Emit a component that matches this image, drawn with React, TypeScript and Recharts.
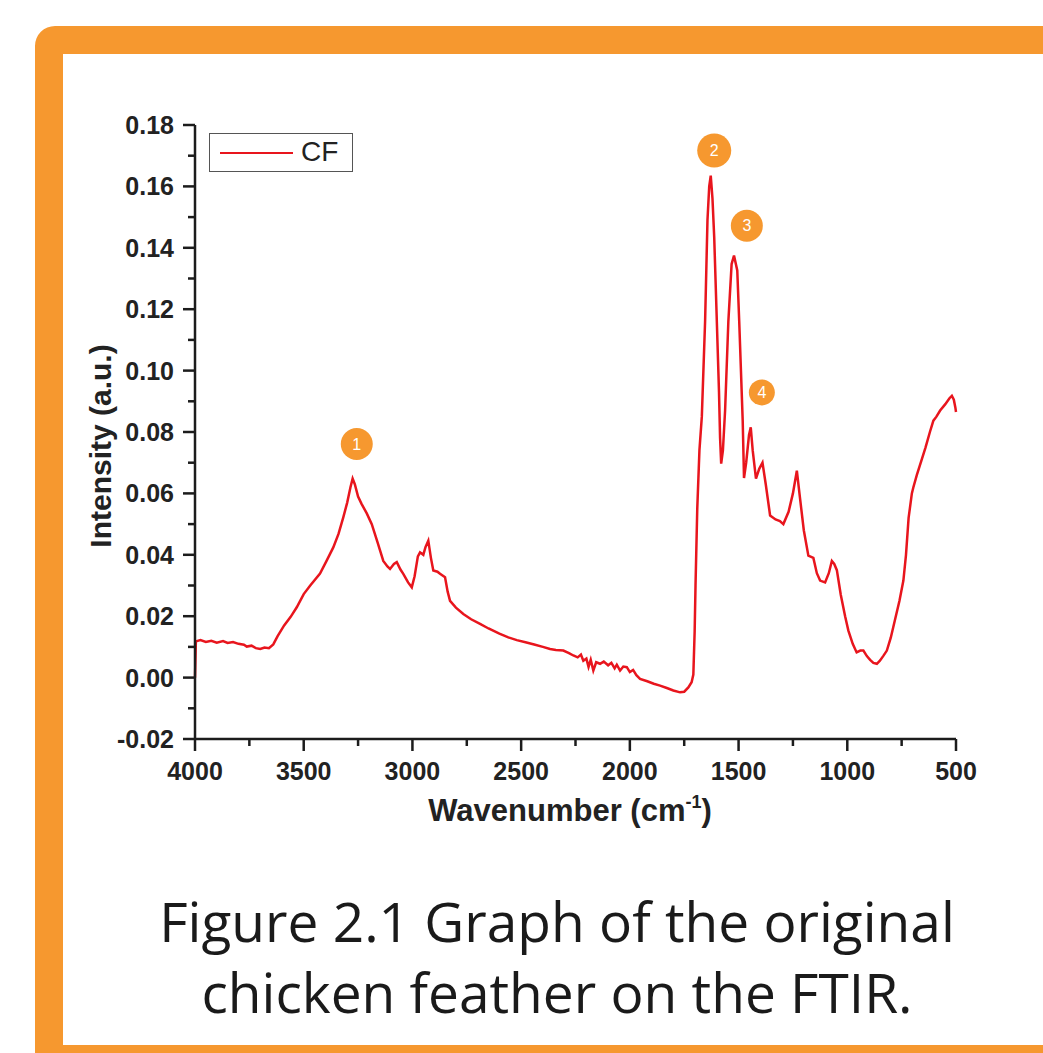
import { LineChart, Line, XAxis, YAxis, Legend, ReferenceDot } from 'recharts';

// FTIR spectrum of chicken feather
const wavenumbers = [
  4000, 3996, 3975, 3950, 3925, 3900, 3871, 3850, 3825, 3800, 3775, 3762, 3740, 3720, 3700, 3680,
  3660, 3640, 3620, 3590, 3560, 3532, 3500, 3470, 3425, 3395, 3364, 3340, 3318, 3300, 3285, 3275,
  3265, 3250, 3234, 3210, 3187, 3160, 3134, 3115, 3103, 3085, 3072, 3055, 3042, 3020, 3003, 2990,
  2975, 2965, 2950, 2940, 2927, 2915, 2904, 2885, 2873, 2850, 2838, 2827, 2800, 2766, 2730, 2689,
  2650, 2600, 2559, 2520, 2480, 2440, 2400, 2367, 2340, 2306, 2280, 2260, 2240, 2225, 2214, 2200,
  2190, 2180, 2168, 2155, 2137, 2120, 2100, 2085, 2070, 2060, 2045, 2030, 2014, 2000, 1985, 1970,
  1953, 1920, 1890, 1861, 1830, 1800, 1769, 1750, 1731, 1716, 1708, 1702, 1698, 1690, 1680, 1669,
  1654, 1643, 1635, 1628, 1620, 1612, 1600, 1590, 1585, 1580, 1572, 1562, 1547, 1532, 1521, 1506,
  1497, 1481, 1475, 1465, 1452, 1444, 1435, 1420, 1405, 1390, 1375, 1355, 1330, 1310, 1294, 1270,
  1250, 1232, 1220, 1200, 1179, 1156, 1140, 1125, 1102, 1085, 1071, 1060, 1048, 1030, 1010, 995,
  975, 957, 940, 926, 910, 895, 880, 864, 850, 835, 818, 800, 780, 760, 742, 730,
  718, 703, 696, 680, 657, 640, 620, 604, 590, 573, 550, 530, 519, 510, 503, 500,
];
const intensities = [
  0.0, 0.0118, 0.0122, 0.0116, 0.012, 0.0114, 0.0119, 0.0113, 0.0116, 0.011, 0.0107, 0.0101, 0.0104, 0.0096, 0.0093, 0.0098,
  0.0096, 0.0108, 0.0135, 0.017, 0.0198, 0.0229, 0.0272, 0.03, 0.0339, 0.038, 0.0424, 0.0468, 0.0522, 0.057, 0.062, 0.0648,
  0.063, 0.059, 0.0566, 0.0535, 0.05, 0.044, 0.038, 0.0362, 0.0354, 0.037, 0.0376, 0.0352, 0.0338, 0.031, 0.0294, 0.033,
  0.0395, 0.0408, 0.04, 0.0425, 0.0446, 0.039, 0.0349, 0.0345, 0.0338, 0.0327, 0.028, 0.025, 0.0228, 0.0207, 0.019, 0.0175,
  0.016, 0.0143, 0.0131, 0.0122, 0.0115, 0.0108, 0.01, 0.0093, 0.009, 0.0088, 0.008, 0.0072, 0.0066, 0.0075, 0.0055, 0.0062,
  0.0035, 0.0058, 0.0023, 0.005, 0.0045, 0.0052, 0.004, 0.0048, 0.003, 0.0042, 0.0023, 0.0036, 0.0034, 0.0018, 0.0025, 0.0008,
  -0.0004, -0.0012, -0.002, -0.0026, -0.0034, -0.0042, -0.0048, -0.0046, -0.0032, -0.0015, 0.001, 0.015, 0.03, 0.055, 0.074, 0.085,
  0.116, 0.149, 0.16, 0.1635, 0.156, 0.1434, 0.116, 0.093, 0.078, 0.0697, 0.074, 0.087, 0.116, 0.1347, 0.1375, 0.1326,
  0.116, 0.0837, 0.065, 0.07, 0.079, 0.0815, 0.074, 0.0648, 0.068, 0.07, 0.063, 0.0528, 0.0515, 0.051, 0.05, 0.054,
  0.06, 0.0674, 0.06, 0.048, 0.0397, 0.039, 0.034, 0.0316, 0.031, 0.034, 0.038, 0.037, 0.035, 0.027, 0.02, 0.0153,
  0.011, 0.0082, 0.0088, 0.0088, 0.007, 0.0058, 0.0048, 0.0045, 0.0055, 0.007, 0.0088, 0.013, 0.019, 0.025, 0.0316, 0.04,
  0.052, 0.06, 0.062, 0.066, 0.0712, 0.075, 0.08, 0.0837, 0.085, 0.087, 0.089, 0.091, 0.0918, 0.0905, 0.088, 0.0865,
];

const xTicks = [4000, 3750, 3500, 3250, 3000, 2750, 2500, 2250, 2000, 1750, 1500, 1250, 1000, 750, 500];
const yTicks = [-0.02, -0.01, 0, 0.01, 0.02, 0.03, 0.04, 0.05, 0.06, 0.07, 0.08, 0.09, 0.1, 0.11, 0.12, 0.13, 0.14, 0.15, 0.16, 0.17, 0.18];

// numbered peak markers
const peakLabels = ['1', '2', '3', '4'];
const peakW = [3256, 1612, 1462, 1393];
const peakV = [0.0761, 0.1717, 0.1472, 0.0929];
const peakR = [16, 17, 16, 13];

const data = wavenumbers.map((w, i) => ({ w, cf: intensities[i] }));

const RED = '#e8151d';
const ORANGE = '#f6982f';
const AXIS = '#1c1c1c';
const FONT = '"Liberation Sans", Arial, sans-serif';

const XTick = ({ x, y, payload }: any) => {
  const major = payload.value % 500 === 0;
  return (
    <g>
      <line x1={x} y1={y} x2={x} y2={y + (major ? 12 : 7)} stroke={AXIS} strokeWidth={2.5} />
      {major && (
        <text x={x} y={y + 41} textAnchor="middle" fontFamily={FONT} fontWeight="bold" fontSize={25} fill="#222">
          {payload.value}
        </text>
      )}
    </g>
  );
};

const YTick = ({ x, y, payload }: any) => {
  const major = Math.round(payload.value * 100) % 2 === 0;
  return (
    <g>
      <line x1={x} y1={y} x2={x - (major ? 12 : 7)} y2={y} stroke={AXIS} strokeWidth={2.5} />
      {major && (
        <text x={x - 21} y={y} dy="0.36em" textAnchor="end" fontFamily={FONT} fontWeight="bold" fontSize={25} fill="#222">
          {payload.value.toFixed(2)}
        </text>
      )}
    </g>
  );
};

const PeakDot = (label: string) => (props: any) => (
  <g>
    <circle cx={props.cx} cy={props.cy} r={props.r} fill={ORANGE} />
    <text x={props.cx} y={props.cy} dy="0.36em" textAnchor="middle" fontFamily={FONT} fontSize={16} fill="#fff">
      {label}
    </text>
  </g>
);

const LegendBox = () => (
  <div
    style={{
      width: 142,
      height: 37,
      border: '1.5px solid #555',
      background: '#fff',
      position: 'relative',
      fontFamily: FONT,
    }}
  >
    <div style={{ position: 'absolute', left: 10, top: 18, width: 73, height: 0, borderTop: `2.5px solid ${RED}` }} />
    <div style={{ position: 'absolute', left: 91, top: 2, fontSize: 28, lineHeight: '32px', color: '#222' }}>CF</div>
  </div>
);

export default function App() {
  return (
    <div style={{ position: 'absolute', left: 0, top: 0, width: 1043, height: 1053, overflow: 'hidden', background: '#fff' }}>
      <div
        style={{
          position: 'absolute',
          left: 35,
          top: 26,
          width: 1100,
          height: 1047,
          border: `28px solid ${ORANGE}`,
          borderRadius: 20,
          boxSizing: 'border-box',
          background: '#fff',
        }}
      />
      <div style={{ position: 'absolute', left: 0, top: 0 }}>
        <LineChart width={1043} height={850} data={data} margin={{ top: 125, right: 87, left: 135, bottom: 51 }}>
          <XAxis
            dataKey="w"
            type="number"
            domain={[500, 4000]}
            reversed
            ticks={xTicks}
            interval={0}
            height={60}
            tickSize={0}
            tickMargin={0}
            axisLine={{ stroke: AXIS, strokeWidth: 2.5 }}
            tick={<XTick />}
          />
          <YAxis
            type="number"
            domain={[-0.02, 0.18]}
            ticks={yTicks}
            interval={0}
            width={60}
            tickSize={0}
            tickMargin={0}
            axisLine={{ stroke: AXIS, strokeWidth: 2.5 }}
            tick={<YTick />}
          />
          <Legend
            layout="horizontal"
            verticalAlign="middle"
            align="center"
            wrapperStyle={{ position: 'absolute', left: 209, top: 133, width: 'auto' }}
            content={() => <LegendBox />}
          />
          <Line
            type="linear"
            dataKey="cf"
            name="CF"
            stroke={RED}
            strokeWidth={2.5}
            dot={false}
            activeDot={false}
            isAnimationActive={false}
          />
          {peakLabels.map((l, i) => (
            <ReferenceDot key={l} x={peakW[i]} y={peakV[i]} r={peakR[i]} shape={PeakDot(l)} ifOverflow="visible" />
          ))}
        </LineChart>
      </div>
      <div
        style={{
          position: 'absolute',
          left: 420,
          top: 795,
          width: 300,
          textAlign: 'center',
          fontFamily: FONT,
          fontWeight: 'bold',
          fontSize: 31,
          lineHeight: '31px',
          color: '#222',
          whiteSpace: 'nowrap',
        }}
      >
        Wavenumber (cm<span style={{ position: 'relative', top: -13, fontSize: 18 }}>-1</span>)
      </div>
      <div
        style={{
          position: 'absolute',
          left: -49,
          top: 431,
          width: 300,
          textAlign: 'center',
          fontFamily: FONT,
          fontWeight: 'bold',
          fontSize: 30,
          lineHeight: '30px',
          color: '#222',
          transform: 'rotate(-90deg)',
          transformOrigin: '150px 15px',
          whiteSpace: 'nowrap',
        }}
      >
        Intensity (a.u.)
      </div>
      <div
        style={{
          position: 'absolute',
          left: 62,
          top: 885,
          width: 990,
          textAlign: 'center',
          fontFamily: '"Open Sans", sans-serif',
          fontSize: 55,
          lineHeight: '71px',
          color: '#1a1a1a',
        }}
      >
        <div>Figure 2.1 Graph of the original</div>
        <div>chicken feather on the FTIR.</div>
      </div>
    </div>
  );
}
